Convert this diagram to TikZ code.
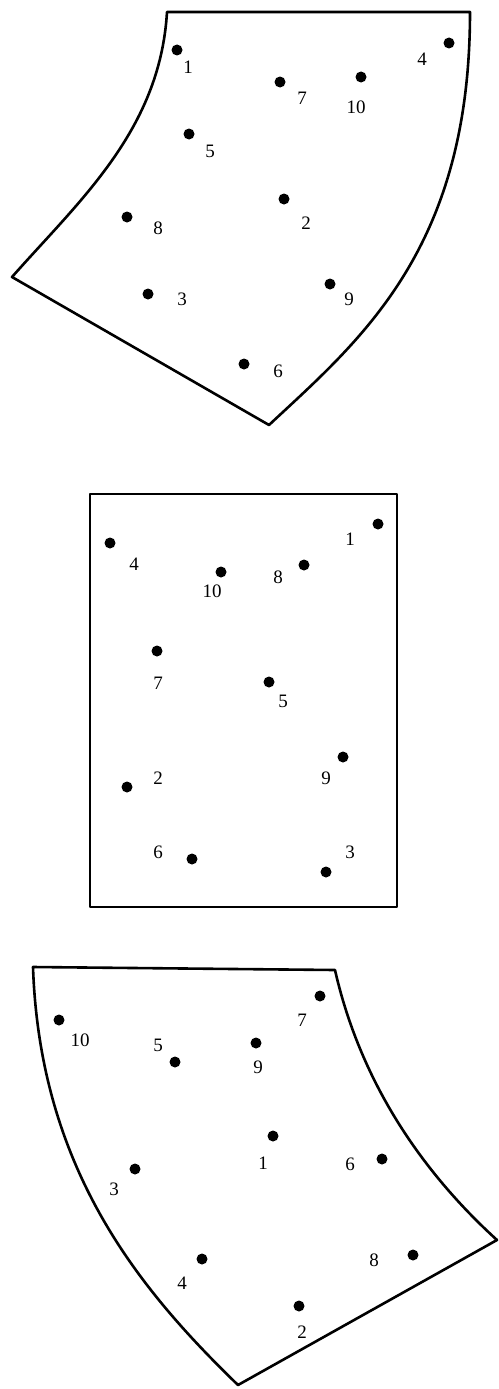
\documentclass[tikz,border=0pt]{standalone}
\usepackage{fontspec}
\setmainfont{Liberation Serif}

\begin{document}
\begin{tikzpicture}[
    x=1pt, y=-1pt,
    dot/.style={circle, fill, inner sep=0pt, minimum size=11pt},
    num/.style={inner sep=0pt, font=\fontsize{19}{19}\selectfont},
    rim/.style={line width=2.6pt, line join=round, line cap=round}
  ]
  \useasboundingbox (0,0) rectangle (498,1389);

  % upper sheet
  \draw[rim] (167,12) -- (470,12) .. controls (470,250) and (360,340) .. (269,425)
    -- (12,277) .. controls (80,200) and (160,130) .. (167,12) -- cycle;
  \node[dot] (a1) at (177,50) {};   \node[num] (a1n) at (188,67) {1};
  \node[dot] (a2) at (284,199) {};  \node[num] (a2n) at (306,223) {2};
  \node[dot] (a3) at (148,294) {};  \node[num] (a3n) at (182,299) {3};
  \node[dot] (a4) at (449,43) {};   \node[num] (a4n) at (422,59) {4};
  \node[dot] (a5) at (189,134) {};  \node[num] (a5n) at (210,151) {5};
  \node[dot] (a6) at (244,364) {};  \node[num] (a6n) at (278,371) {6};
  \node[dot] (a7) at (280,82) {};   \node[num] (a7n) at (302,98) {7};
  \node[dot] (a8) at (127,217) {};  \node[num] (a8n) at (158,228) {8};
  \node[dot] (a9) at (330,284) {};  \node[num] (a9n) at (349,299) {9};
  \node[dot] (a10) at (361,77) {};  \node[num] (a10n) at (356,107) {10};

  % middle sheet
  \draw[rim] (90,494) rectangle (397,907);
  \node[dot] (b1) at (378,524) {};  \node[num] (b1n) at (350,539) {1};
  \node[dot] (b2) at (127,787) {};  \node[num] (b2n) at (158,778) {2};
  \node[dot] (b3) at (326,872) {};  \node[num] (b3n) at (350,852) {3};
  \node[dot] (b4) at (110,543) {};  \node[num] (b4n) at (134,564) {4};
  \node[dot] (b5) at (269,682) {};  \node[num] (b5n) at (283,701) {5};
  \node[dot] (b6) at (192,859) {};  \node[num] (b6n) at (158,852) {6};
  \node[dot] (b7) at (157,651) {};  \node[num] (b7n) at (158,683) {7};
  \node[dot] (b8) at (304,565) {};  \node[num] (b8n) at (278,577) {8};
  \node[dot] (b9) at (343,757) {};  \node[num] (b9n) at (326,778) {9};
  \node[dot] (b10) at (221,572) {}; \node[num] (b10n) at (212,591) {10};

  % lower sheet
  \draw[rim] (33,967) -- (335,970) .. controls (360,1080) and (420,1170) .. (497,1240)
    -- (238,1385) .. controls (140,1290) and (40,1170) .. (33,967) -- cycle;
  \node[dot] (c1) at (273,1136) {}; \node[num] (c1n) at (263,1163) {1};
  \node[dot] (c2) at (299,1306) {}; \node[num] (c2n) at (302,1332) {2};
  \node[dot] (c3) at (135,1169) {}; \node[num] (c3n) at (114,1189) {3};
  \node[dot] (c4) at (202,1259) {}; \node[num] (c4n) at (182,1283) {4};
  \node[dot] (c5) at (175,1062) {}; \node[num] (c5n) at (158,1045) {5};
  \node[dot] (c6) at (382,1159) {}; \node[num] (c6n) at (350,1164) {6};
  \node[dot] (c7) at (320,996) {};  \node[num] (c7n) at (302,1020) {7};
  \node[dot] (c8) at (413,1255) {}; \node[num] (c8n) at (374,1260) {8};
  \node[dot] (c9) at (256,1043) {}; \node[num] (c9n) at (258,1067) {9};
  \node[dot] (c10) at (59,1020) {}; \node[num] (c10n) at (80,1040) {10};
\end{tikzpicture}
\end{document}
